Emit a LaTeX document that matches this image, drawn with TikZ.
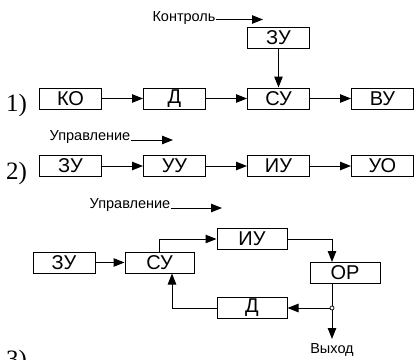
\documentclass[tikz,border=0pt]{standalone}
\usepackage{fontspec}
\setmainfont{Liberation Sans}
\newfontfamily\lblfont{Liberation Sans}
\newfontfamily\numfont{Liberation Serif}
\usetikzlibrary{arrows.meta}
\begin{document}
\begin{tikzpicture}[x=1pt,y=-1pt,
  box/.style={draw, line width=1pt, minimum width=#1, minimum height=21pt, inner sep=0pt,
    font=\lblfont\fontsize{20}{20}\selectfont},
  box/.default=62pt,
  lab/.style={inner sep=0pt, font=\lblfont\fontsize{14.5}{14.5}\selectfont},
  num/.style={inner sep=0pt, anchor=base west, font=\numfont\fontsize{25}{25}\selectfont},
  conn/.style={line width=1pt, -{Triangle[length=11pt,width=8.5pt]}},
  plain/.style={line width=1pt}
]
\useasboundingbox (0,0) rectangle (414,359);
\fill[white] (0,0) rectangle (414,359);

% ---- 1) ----
\node[num] (n1) at (6,111) {1)};
\node[lab] (ctrl) at (184,18) {Контроль};
\coordinate (ctrle) at (263,19.5);
\node[box] (zu1) at (278.5,37.5) {ЗУ};
\node[box] (ko) at (70.5,98.5) {КО};
\node[box] (d1) at (174.5,98.5) {Д};
\node[box] (su1) at (278.5,98.5) {СУ};
\node[box] (vu) at (382.5,98.5) {ВУ};
\draw[conn] (ctrl.east |- ctrle) -- (ctrle);
\draw[conn] (zu1) -- (su1);
\draw[conn] (ko) -- (d1);
\draw[conn] (d1) -- (su1);
\draw[conn] (su1) -- (vu);

% ---- 2) ----
\node[num] (n2) at (6,179) {2)};
\node[lab] (upr1) at (90,137) {Управление};
\coordinate (upr1e) at (173,140);
\node[box] (zu2) at (70.5,166) {ЗУ};
\node[box] (uu) at (174.5,166) {УУ};
\node[box] (iu2) at (278.5,166) {ИУ};
\node[box] (uo) at (382.5,166) {УО};
\draw[conn] (upr1.east |- upr1e) -- (upr1e);
\draw[conn] (zu2) -- (uu);
\draw[conn] (uu) -- (iu2);
\draw[conn] (iu2) -- (uo);

% ---- 3) ----
\node[num] (n3) at (6,367) {3)};
\node[lab] (upr2) at (130,205) {Управление};
\coordinate (upr2e) at (222,208);
\draw[conn] (upr2.east |- upr2e) -- (upr2e);
\node[box] (zu3) at (64,262.5) {ЗУ};
\node[box=69pt] (su3) at (159.5,262.5) {СУ};
\node[box=70pt] (iu3) at (252,239) {ИУ};
\node[box=70pt] (or) at (345,273) {ОР};
\node[box=70pt] (d3) at (252,308) {Д};
\coordinate (j) at (332,308);
\coordinate (out) at (332,339);
\coordinate (fb) at (172,308);
\node[lab] (vyh) at (332,350) {Выход};
\draw[conn] (zu3) -- (su3);
\draw[conn] (su3.north) |- (iu3.west);
\draw[conn] (iu3.east) -| (j |- or.north);
\draw[plain] (j |- or.south) -- (j);
\draw[conn] (j) -- (d3.east);
\draw[conn] (j) -- (out);
\draw[conn] (d3.west) -| (fb |- su3.south);
\node[circle, draw, fill=white, line width=0.7pt, inner sep=0pt, minimum size=4pt] (jc) at (j) {};
\end{tikzpicture}
\end{document}
